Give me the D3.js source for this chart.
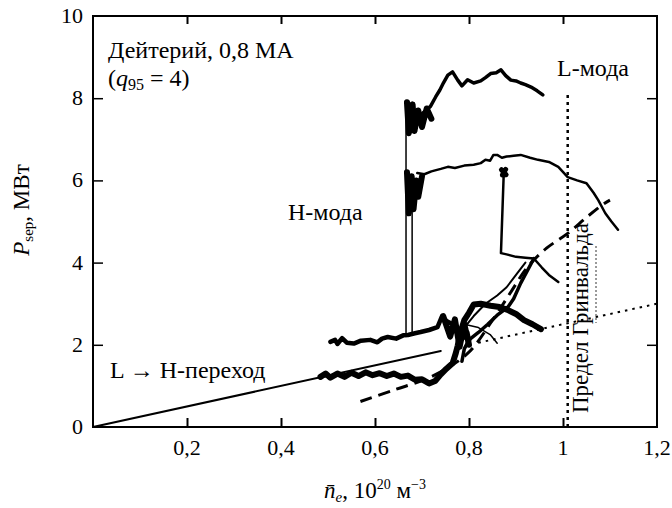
<!DOCTYPE html>
<html>
<head>
<meta charset="utf-8">
<script src="https://cdn.jsdelivr.net/npm/d3@7/dist/d3.min.js"></script>
<style>
body { margin: 0; background: #fff; }
text { font-family: "Liberation Serif", "Times New Roman", serif; fill: #000; }
</style>
</head>
<body>
<script>
// axis ticks
var densityTicks = [0.2, 0.4, 0.6, 0.8, 1.0, 1.2];
var densityTickLabels = ['0,2', '0,4', '0,6', '0,8', '1', '1,2'];
var powerTicks = [0, 2, 4, 6, 8, 10];
var powerTickLabels = ['0', '2', '4', '6', '8', '10'];

// scaling line P = 2.5 n (solid part, then dotted)
var scalingSolid = [[0, 0], [0.74, 1.85]];
var scalingDotted = [[0.82, 2.05], [1.2, 3.0]];
// Greenwald limit
var greenwaldN = 1.01;
var greenwaldTop = 8.1;
// thick dashed threshold curve
var thresholdCurve = [[0.569, 0.62], [0.64, 0.9], [0.719, 1.22], [0.797, 1.79], [0.85, 2.6],
    [0.89, 3.3], [0.925, 3.9], [0.965, 4.35], [1.01, 4.71], [1.05, 5.1], [1.088, 5.44], [1.1, 5.52]];

// discharge traces
var lowerBand = [[0.484, 1.22], [0.495, 1.3], [0.505, 1.2], [0.52, 1.3], [0.535, 1.22], [0.55, 1.32],
    [0.565, 1.24], [0.58, 1.33], [0.595, 1.26], [0.61, 1.31], [0.625, 1.24], [0.64, 1.3], [0.655, 1.22],
    [0.67, 1.25], [0.685, 1.15], [0.70, 1.16], [0.715, 1.06], [0.728, 1.12], [0.74, 1.28],
    [0.752, 1.42], [0.765, 1.55], [0.772, 1.8], [0.776, 1.98], [0.782, 2.3], [0.79, 2.6],
    [0.80, 2.78], [0.81, 2.98], [0.825, 3.0], [0.846, 2.95], [0.865, 2.92], [0.882, 2.85],
    [0.90, 2.75], [0.917, 2.6], [0.935, 2.5], [0.953, 2.38]];
var hBand = [[0.505, 2.07], [0.515, 2.12], [0.52, 2.02], [0.53, 2.16], [0.54, 2.05], [0.555, 2.03],
    [0.57, 2.1], [0.59, 2.12], [0.605, 2.06], [0.615, 2.15], [0.627, 2.19], [0.645, 2.15],
    [0.66, 2.23], [0.67, 2.24], [0.685, 2.28], [0.697, 2.31], [0.715, 2.36], [0.733, 2.43],
    [0.742, 2.68], [0.752, 2.58], [0.765, 2.5], [0.782, 2.36], [0.79, 2.2], [0.80, 2.1]];
var topTrace = [[0.672, 7.88], [0.682, 7.54], [0.70, 7.62], [0.718, 7.8], [0.729, 8.03],
    [0.738, 8.2], [0.746, 8.38], [0.755, 8.56], [0.765, 8.64], [0.776, 8.44], [0.785, 8.3],
    [0.797, 8.45], [0.81, 8.37], [0.825, 8.42], [0.835, 8.5], [0.846, 8.6], [0.858, 8.62],
    [0.868, 8.69], [0.878, 8.55], [0.889, 8.44], [0.90, 8.42], [0.91, 8.37], [0.92, 8.33],
    [0.932, 8.27], [0.945, 8.18], [0.957, 8.08]];
var midTrace = [[0.69, 6.18], [0.705, 6.15], [0.72, 6.22], [0.74, 6.28], [0.755, 6.33],
    [0.77, 6.3], [0.79, 6.36], [0.81, 6.38], [0.825, 6.42], [0.835, 6.5], [0.845, 6.48],
    [0.852, 6.62], [0.86, 6.62], [0.87, 6.55], [0.88, 6.58], [0.895, 6.6], [0.91, 6.62],
    [0.93, 6.55], [0.947, 6.5], [0.97, 6.45], [0.99, 6.33], [1.01, 6.08], [1.03, 6.0],
    [1.05, 5.93], [1.065, 5.7], [1.075, 5.52], [1.09, 5.2], [1.103, 5.0], [1.117, 4.8]];
var dropTrace = [[0.874, 6.2], [0.868, 4.23], [0.88, 4.2], [0.90, 4.14], [0.92, 4.12],
    [0.938, 4.1], [0.955, 3.88], [0.97, 3.7], [0.99, 3.53]];
var riseTrace = [[0.785, 1.6], [0.79, 1.9], [0.80, 2.12], [0.82, 2.3], [0.84, 2.5],
    [0.86, 2.72], [0.883, 2.92], [0.895, 3.12], [0.91, 3.5], [0.925, 3.82], [0.938, 4.1]];
var riseTrace2 = [[0.775, 2.1], [0.79, 2.42], [0.81, 2.7], [0.835, 3.0], [0.86, 3.2], [0.88, 3.4],
    [0.90, 3.7], [0.92, 4.0]];
var arcTrace = [[0.79, 2.5], [0.82, 2.42], [0.845, 2.25], [0.86, 2.04]];
var jumpTop = [[0.666, 2.2], [0.666, 7.9]];
var jumpMid = [[0.679, 2.24], [0.679, 6.1]];
var topBlob = [[0.668, 7.9], [0.672, 7.15], [0.68, 7.85], [0.684, 7.2], [0.692, 7.7],
    [0.70, 7.3], [0.71, 7.75], [0.72, 7.5]];
var midBlob = [[0.668, 6.2], [0.672, 5.2], [0.678, 6.1], [0.682, 5.3], [0.688, 6.0],
    [0.692, 5.6], [0.70, 6.1]];
var tangleBlob = [[0.745, 2.7], [0.76, 2.2], [0.77, 2.62], [0.78, 1.95], [0.79, 2.5],
    [0.80, 2.0], [0.795, 2.3]];
var knotBlob = [[0.869, 6.26], [0.879, 6.14], [0.871, 6.13], [0.878, 6.27], [0.874, 6.2]];

var svg = d3.select('body').append('svg')
    .attr('width', 672)
    .attr('height', 508);

var x = d3.scaleLinear().domain([0, 1.2]).range([93, 657]);
var y = d3.scaleLinear().domain([0, 10]).range([427, 16]);

var line = d3.line()
    .x(function (d) { return x(d[0]); })
    .y(function (d) { return y(d[1]); });
var smooth = d3.line()
    .x(function (d) { return x(d[0]); })
    .y(function (d) { return y(d[1]); })
    .curve(d3.curveCatmullRom);

function trace(data, width, gen) {
    svg.append('path')
        .attr('d', (gen || line)(data))
        .attr('fill', 'none')
        .attr('stroke', '#000')
        .attr('stroke-width', width)
        .attr('stroke-linejoin', 'round')
        .attr('stroke-linecap', 'round');
}

// frame and ticks
svg.append('rect')
    .attr('x', x(0)).attr('y', y(10))
    .attr('width', x(1.2) - x(0)).attr('height', y(0) - y(10))
    .attr('fill', 'none').attr('stroke', '#000').attr('stroke-width', 2);

svg.append('g').attr('transform', 'translate(0,' + y(0) + ')')
    .call(d3.axisTop(x).tickValues(densityTicks.slice(0, 5)).tickSize(9).tickFormat(''))
    .call(function (g) { g.select('.domain').remove(); g.selectAll('line').attr('stroke-width', 2); });
svg.append('g').attr('transform', 'translate(0,' + y(10) + ')')
    .call(d3.axisBottom(x).tickValues(densityTicks.slice(0, 5)).tickSize(8).tickFormat(''))
    .call(function (g) { g.select('.domain').remove(); g.selectAll('line').attr('stroke-width', 2); });
svg.append('g').attr('transform', 'translate(' + x(0) + ',0)')
    .call(d3.axisRight(y).tickValues(powerTicks.slice(1, 5)).tickSize(10).tickFormat(''))
    .call(function (g) { g.select('.domain').remove(); g.selectAll('line').attr('stroke-width', 1.5); });
svg.append('g').attr('transform', 'translate(' + x(1.2) + ',0)')
    .call(d3.axisLeft(y).tickValues(powerTicks.slice(1, 5)).tickSize(10).tickFormat(''))
    .call(function (g) { g.select('.domain').remove(); g.selectAll('line').attr('stroke-width', 1.5); });

svg.selectAll('.xlab').data(densityTicks).enter().append('text')
    .attr('x', function (d) { return x(d); })
    .attr('y', 455)
    .attr('text-anchor', 'middle')
    .attr('font-size', 22)
    .text(function (d, i) { return densityTickLabels[i]; });
svg.selectAll('.ylab').data(powerTicks).enter().append('text')
    .attr('x', 83)
    .attr('y', function (d) { return y(d) + 7; })
    .attr('text-anchor', 'end')
    .attr('font-size', 22)
    .text(function (d, i) { return powerTickLabels[i]; });

// reference lines
trace(scalingSolid, 2);
svg.append('path')
    .attr('d', line(scalingDotted))
    .attr('fill', 'none').attr('stroke', '#000')
    .attr('stroke-width', 2).attr('stroke-dasharray', '2.5,5');
svg.append('line')
    .attr('x1', x(greenwaldN)).attr('x2', x(greenwaldN))
    .attr('y1', y(0)).attr('y2', y(greenwaldTop))
    .attr('stroke', '#000').attr('stroke-width', 2.5).attr('stroke-dasharray', '3,4');
svg.append('path')
    .attr('d', smooth(thresholdCurve))
    .attr('fill', 'none').attr('stroke', '#000')
    .attr('stroke-width', 3).attr('stroke-dasharray', '12,7');

// discharges
trace(lowerBand, 6);
trace(hBand, 4.5);
trace(jumpTop, 1.5);
trace(jumpMid, 1.5);
trace(topTrace, 3.5);
trace(topBlob, 6);
trace(midTrace, 2.5);
trace(midBlob, 6);
trace(dropTrace, 2.5);
trace(riseTrace, 3.5);
trace(riseTrace2, 2);
trace(arcTrace, 1.5);
trace(tangleBlob, 6);
trace(knotBlob, 5);

// annotations
svg.append('text').attr('x', 108).attr('y', 58).attr('font-size', 24).text('Дейтерий, 0,8 МА');
var q = svg.append('text').attr('x', 108).attr('y', 86).attr('font-size', 24);
q.append('tspan').text('(');
q.append('tspan').attr('font-style', 'italic').text('q');
q.append('tspan').attr('font-size', 16).attr('dy', 4).text('95');
q.append('tspan').attr('dy', -4).text(' = 4)');

svg.append('text').attr('x', 557).attr('y', 76).attr('font-size', 24).text('L-мода');
svg.append('text').attr('x', 288).attr('y', 220).attr('font-size', 24).text('Н-мода');
svg.append('text').attr('x', 110).attr('y', 378).attr('font-size', 24).text('L → Н-переход');
svg.append('text')
    .attr('transform', 'translate(588,413) rotate(-90)')
    .attr('font-size', 23)
    .text('Предел Гринвальда');
svg.append('line')
    .attr('x1', 596).attr('x2', 596).attr('y1', 246).attr('y2', 323)
    .attr('stroke', '#000').attr('stroke-width', 0.8).attr('stroke-dasharray', '2,2');

var yl = svg.append('text')
    .attr('transform', 'translate(29,210) rotate(-90)')
    .attr('text-anchor', 'middle')
    .attr('font-size', 23);
yl.append('tspan').attr('font-style', 'italic').text('P');
yl.append('tspan').attr('font-size', 15).attr('dy', 4).text('sep');
yl.append('tspan').attr('dy', -4).text(', МВт');

var xl = svg.append('text')
    .attr('x', 375).attr('y', 498)
    .attr('text-anchor', 'middle')
    .attr('font-size', 23);
xl.append('tspan').attr('font-style', 'italic').text('n\u0304');
xl.append('tspan').attr('font-style', 'italic').attr('font-size', 15).attr('dy', 4).text('e');
xl.append('tspan').attr('dy', -4).text(', 10');
xl.append('tspan').attr('font-size', 14).attr('dy', -9).text('20');
xl.append('tspan').attr('dy', 9).text(' м');
xl.append('tspan').attr('font-size', 14).attr('dy', -9).text('−3');
</script>
</body>
</html>
